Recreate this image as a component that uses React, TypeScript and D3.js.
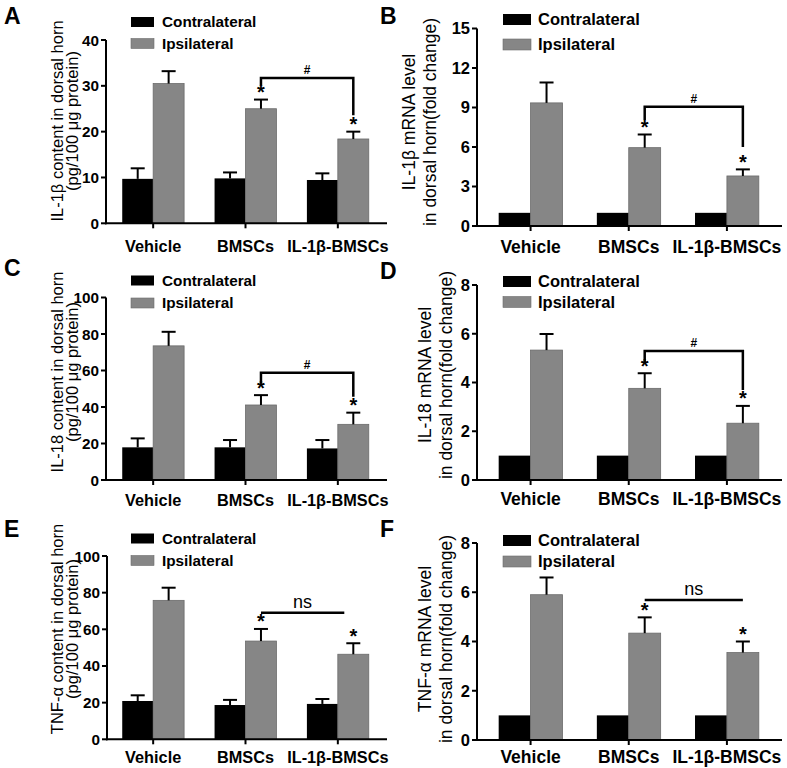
import React from "react";
import * as d3 from "d3";

const groups = ["Vehicle", "BMSCs", "IL-1β-BMSCs"];
const seriesNames = ["Contralateral", "Ipsilateral"];
const starFlags = [false, true, true];

// Panel A: IL-1β content
const aContra = [9.7, 9.8, 9.45];
const aContraErr = [2.3, 1.3, 1.45];
const aIpsi = [30.5, 25.0, 18.4];
const aIpsiErr = [2.7, 2.0, 1.6];
const aTicks = [0, 10, 20, 30, 40];

// Panel B: IL-1β mRNA
const bContra = [1, 1, 1];
const bContraErr = [0, 0, 0];
const bIpsi = [9.35, 5.95, 3.8];
const bIpsiErr = [1.55, 1.0, 0.5];
const bTicks = [0, 3, 6, 9, 12, 15];

// Panel C: IL-18 content
const cContra = [17.9, 17.9, 17.3];
const cContraErr = [4.9, 4.0, 4.6];
const cIpsi = [73.5, 41.1, 30.5];
const cIpsiErr = [7.7, 5.4, 6.4];
const cTicks = [0, 20, 40, 60, 80, 100];

// Panel D: IL-18 mRNA
const dContra = [1, 1, 1];
const dContraErr = [0, 0, 0];
const dIpsi = [5.33, 3.76, 2.33];
const dIpsiErr = [0.66, 0.62, 0.71];
const dTicks = [0, 2, 4, 6, 8];

// Panel E: TNF-α content
const eContra = [20.9, 18.7, 19.3];
const eContraErr = [3.1, 2.8, 2.7];
const eIpsi = [75.8, 53.6, 46.4];
const eIpsiErr = [6.9, 6.6, 6.0];
const eTicks = [0, 20, 40, 60, 80, 100];

// Panel F: TNF-α mRNA
const fContra = [1, 1, 1];
const fContraErr = [0, 0, 0];
const fIpsi = [5.9, 4.34, 3.55];
const fIpsiErr = [0.7, 0.64, 0.45];
const fTicks = [0, 2, 4, 6, 8];

// Comparison annotations (value units)
const aBracket = { label: "#", y: 31.7, leftEnd: 30.0, rightEnd: 23.6 };
const bBracket = { label: "#", y: 9.05, leftEnd: 8.05, rightEnd: 6.0 };
const cBracket = { label: "#", y: 58.8, leftEnd: 52.9, rightEnd: 45.6 };
const dBracket = { label: "#", y: 5.29, leftEnd: 4.79, rightEnd: 3.69 };
const eBracket = { label: "ns", y: 69.1, leftEnd: null, rightEnd: null };
const fBracket = { label: "ns", y: 5.69, leftEnd: null, rightEnd: null };

const FONT = "Arial, 'Liberation Sans', Helvetica, sans-serif";
const BLACK = "#000000";
const GRAY = "#868686";
const GRAY_EDGE = "#6b6b6b";

const leftLayout = {
  axisX: 106, axisEnd: 387, band: [107, 384], pad: 0.33,
  tickFont: 15.3, xFont: 16.3, titleFont: 16.5, legendFont: 15.3,
  rectX: 131, rectW: 23, rectH: 10, legendTextX: 162,
  titleX: [62.5, 78], letterX: 4, nsInset: 9,
};
const rightLayout = {
  axisX: 477, axisEnd: 782, band: [481.5, 776], pad: 0.35,
  tickFont: 16.5, xFont: 17.5, titleFont: 17.5, legendFont: 16.5,
  rectX: 503, rectW: 28, rectH: 11, legendTextX: 538,
  titleX: [431, 452], letterX: 380, nsInset: 0,
};

const panels = [
  { letter: "A", L: leftLayout, y0: 223.3, yTop: 40, max: 40, ticks: aTicks,
    vals: [aContra, aIpsi], errs: [aContraErr, aIpsiErr], ann: aBracket,
    title: ["IL-1β content in dorsal horn", "(pg/100 μg protein)"], titleCY: 121,
    legendY: [17, 38.5], letterY: 24, xDy: 29 },
  { letter: "B", L: { ...rightLayout, titleX: [415, 436] }, y0: 226, yTop: 28.5, max: 15, ticks: bTicks,
    vals: [bContra, bIpsi], errs: [bContraErr, bIpsiErr], ann: bBracket,
    title: ["IL-1β mRNA level", "in dorsal horn(fold change)"], titleCY: 122,
    legendY: [14, 39], letterY: 24, xDy: 27 },
  { letter: "C", L: leftLayout, y0: 480, yTop: 297.5, max: 100, ticks: cTicks,
    vals: [cContra, cIpsi], errs: [cContraErr, cIpsiErr], ann: cBracket,
    title: ["IL-18 content in dorsal horn", "(pg/100 μg protein)"], titleCY: 372,
    legendY: [275.5, 298], letterY: 276, xDy: 25.5 },
  { letter: "D", L: rightLayout, y0: 480, yTop: 285, max: 8, ticks: dTicks,
    vals: [dContra, dIpsi], errs: [dContraErr, dIpsiErr], ann: dBracket,
    title: ["IL-18 mRNA level", "in dorsal horn(fold change)"], titleCY: 375,
    legendY: [276, 296.5], letterY: 279, xDy: 25 },
  { letter: "E", L: { ...leftLayout, axisX: 107 }, y0: 739.3, yTop: 556, max: 100, ticks: eTicks,
    vals: [eContra, eIpsi], errs: [eContraErr, eIpsiErr], ann: eBracket,
    title: ["TNF-α content in dorsal horn", "(pg/100 μg protein)"], titleCY: 629,
    legendY: [533.5, 555.5], letterY: 537, xDy: 23.5 },
  { letter: "F", L: rightLayout, y0: 740, yTop: 543, max: 8, ticks: fTicks,
    vals: [fContra, fIpsi], errs: [fContraErr, fIpsiErr], ann: fBracket,
    title: ["TNF-α mRNA level", "in dorsal horn(fold change)"], titleCY: 639,
    legendY: [535, 556], letterY: 537, xDy: 23 },
];

function Panel({ p }: { p: any }) {
  const L = p.L;
  const x = d3.scaleBand<string>().domain(groups).range(L.band).paddingInner(L.pad).paddingOuter(L.pad / 2);
  const xs = d3.scaleBand<string>().domain(seriesNames).range([0, x.bandwidth()]);
  const y = d3.scaleLinear().domain([0, p.max]).range([p.y0, p.yTop]);
  const colors = [BLACK, GRAY];
  const capHalf = 7;

  const bars: any[] = [];
  const errsEls: any[] = [];
  const stars: any[] = [];
  groups.forEach((g, i) => {
    seriesNames.forEach((s, si) => {
      const v = p.vals[si][i];
      const e = p.errs[si][i];
      const bx = (x(g) as number) + (xs(s) as number);
      const bw = xs.bandwidth();
      const cx = bx + bw / 2;
      bars.push(
        <rect key={`b${i}${si}`} x={bx} y={y(v)} width={bw} height={y(0) - y(v)}
          fill={colors[si]} stroke={si === 1 ? GRAY_EDGE : BLACK} strokeWidth={si === 1 ? 0.8 : 0} />
      );
      if (e > 0) {
        errsEls.push(
          <g key={`e${i}${si}`} stroke={BLACK} strokeWidth={2}>
            <line x1={cx} x2={cx} y1={y(v)} y2={y(v + e)} />
            <line x1={cx - capHalf} x2={cx + capHalf} y1={y(v + e)} y2={y(v + e)} />
          </g>
        );
      }
      if (si === 1 && starFlags[i]) {
        stars.push(
          <text key={`s${i}`} x={cx} y={y(v + e) - 0.5} textAnchor="middle" fontSize={20}
            fontWeight="bold" fontFamily={FONT}>*</text>
        );
      }
    });
  });

  // annotation
  const grayCenter = (gi: number) => (x(groups[gi]) as number) + (xs(seriesNames[1]) as number) + xs.bandwidth() / 2;
  const ax1 = grayCenter(1);
  const ax2 = grayCenter(2) - (p.ann.label === "ns" ? L.nsInset : 0);
  const ay = y(p.ann.y);
  let annEl;
  if (p.ann.label === "#") {
    const path = d3.path();
    path.moveTo(ax1, y(p.ann.leftEnd));
    path.lineTo(ax1, ay);
    path.lineTo(ax2, ay);
    path.lineTo(ax2, y(p.ann.rightEnd));
    annEl = (
      <g>
        <path d={path.toString()} fill="none" stroke={BLACK} strokeWidth={2.5} />
        <text x={(ax1 + ax2) / 2} y={ay - 4} textAnchor="middle" fontSize={12} fontWeight="bold" fontFamily={FONT}>#</text>
      </g>
    );
  } else {
    annEl = (
      <g>
        <line x1={ax1} x2={ax2} y1={ay} y2={ay} stroke={BLACK} strokeWidth={2.5} />
        <text x={(ax1 + ax2) / 2} y={ay - 4.5} textAnchor="middle" fontSize={18} fontFamily={FONT}>ns</text>
      </g>
    );
  }

  return (
    <g fontFamily={FONT}>
      <text x={L.letterX} y={p.letterY} fontSize={23} fontWeight="bold">{p.letter}</text>
      {/* legend */}
      {seriesNames.map((s, si) => (
        <g key={s}>
          <rect x={L.rectX} y={p.legendY[si]} width={L.rectW} height={L.rectH}
            fill={colors[si]} stroke={si === 1 ? GRAY_EDGE : "none"} strokeWidth={0.6} />
          <text x={L.legendTextX} y={p.legendY[si] + L.rectH + 0.3} fontSize={L.legendFont} fontWeight="bold">{s}</text>
        </g>
      ))}
      {bars}
      {errsEls}
      {stars}
      {annEl}
      {/* y axis */}
      <line x1={L.axisX} x2={L.axisX} y1={y(p.max)} y2={y(0) + 1} stroke={BLACK} strokeWidth={2} />
      {p.ticks.map((t: number) => (
        <g key={t}>
          <line x1={L.axisX - 5} x2={L.axisX} y1={y(t)} y2={y(t)} stroke={BLACK} strokeWidth={2} />
          <text x={L.axisX - 7} y={y(t)} dy="0.36em" textAnchor="end" fontSize={L.tickFont} fontWeight="bold">{t}</text>
        </g>
      ))}
      {/* x axis */}
      <line x1={L.axisX - 1} x2={L.axisEnd} y1={y(0)} y2={y(0)} stroke={BLACK} strokeWidth={2} />
      {groups.map((g) => {
        const cx = (x(g) as number) + x.bandwidth() / 2;
        return (
          <g key={g}>
            <line x1={cx} x2={cx} y1={y(0)} y2={y(0) + 5} stroke={BLACK} strokeWidth={2} />
            <text x={cx} y={y(0) + p.xDy} textAnchor="middle" fontSize={L.xFont} fontWeight="bold">{g}</text>
          </g>
        );
      })}
      {/* y title */}
      {p.title.map((t: string, li: number) => (
        <text key={li} transform={`translate(${L.titleX[li]},${p.titleCY}) rotate(-90)`}
          textAnchor="middle" fontSize={L.titleFont}>{t}</text>
      ))}
    </g>
  );
}

export default function App() {
  return (
    <svg width={787} height={768} viewBox="0 0 787 768"
      style={{ position: "absolute", left: 0, top: 0, background: "#ffffff" }}>
      <rect x={0} y={0} width={787} height={768} fill="#ffffff" />
      {panels.map((p) => <Panel key={p.letter} p={p} />)}
    </svg>
  );
}
